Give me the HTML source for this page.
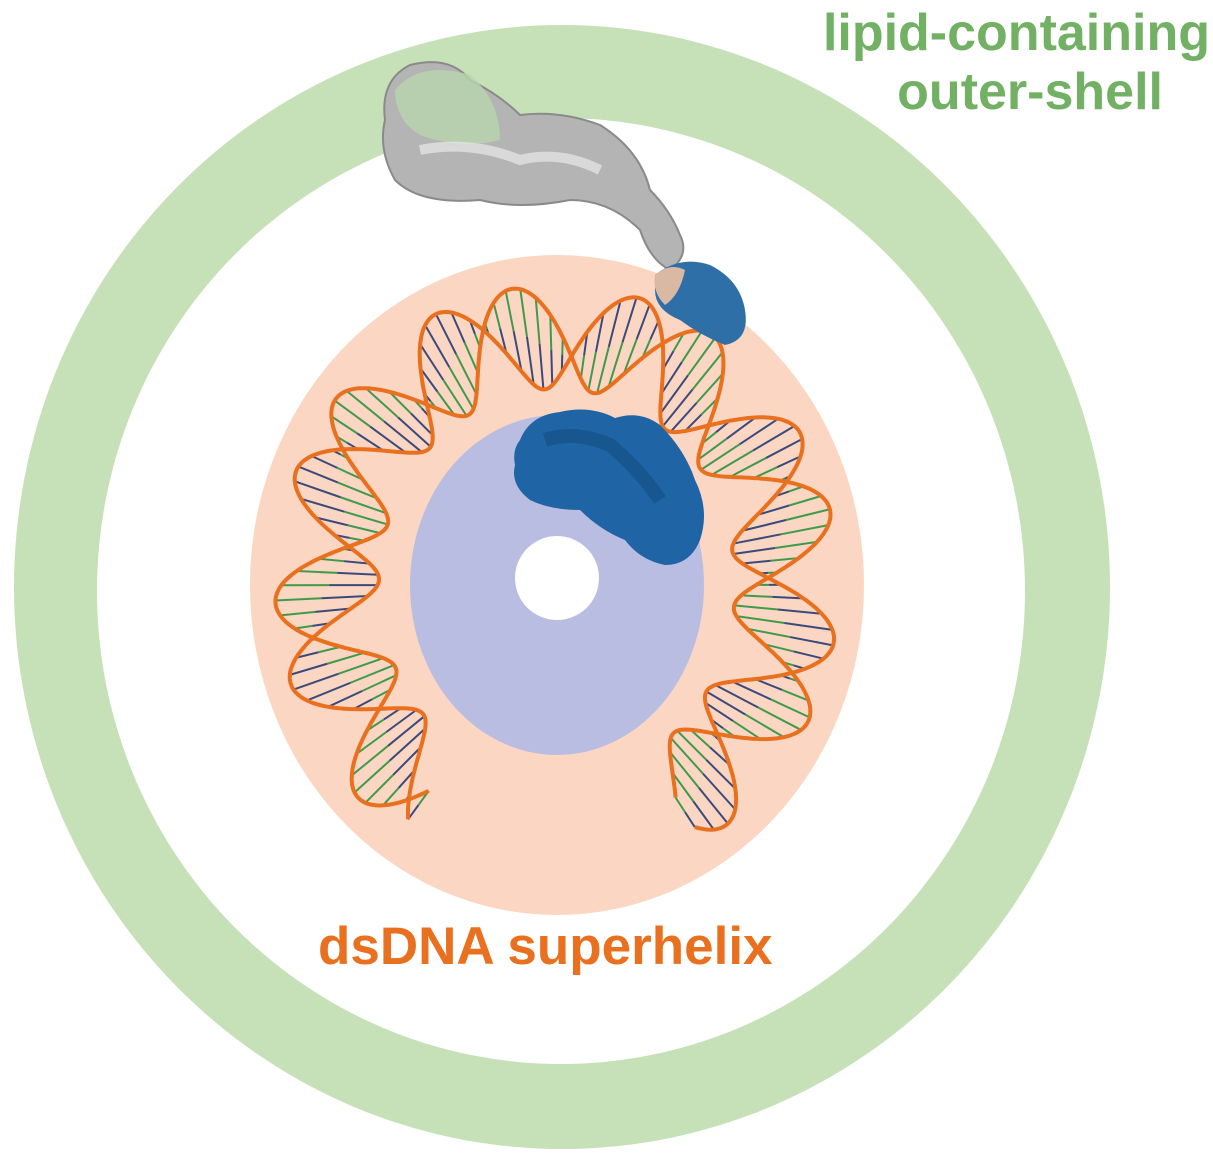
<!DOCTYPE html>
<html><head><meta charset="utf-8"><style>
html,body{margin:0;padding:0;background:#fff;width:1213px;height:1155px;overflow:hidden}
svg{display:block}
</style></head><body>
<svg id="s" width="1213" height="1155" viewBox="0 0 1213 1155" xmlns="http://www.w3.org/2000/svg">
<ellipse cx="562" cy="587" rx="548" ry="562" fill="#c6e1b8"/>
<ellipse cx="561" cy="591" rx="464" ry="473" fill="#fff"/>
<ellipse cx="557" cy="585" rx="307" ry="330" fill="#fbd6c2"/>
<ellipse cx="557" cy="585" rx="147" ry="170" fill="#b9bde2"/>
<circle cx="557" cy="578" r="42" fill="#fff"/>
<g id="dna"></g>
<g fill="#b4b4b4" stroke="#8a8a8a" stroke-width="2">
<path d="M385 120 Q380 80 410 65 Q450 55 470 80 Q500 95 520 115 Q560 110 600 125 Q640 150 650 190 Q670 210 680 235 Q690 255 670 270 Q650 260 640 230 Q610 200 570 200 Q520 210 480 200 Q420 205 395 180 Q378 150 385 120Z"/>
</g>
<path d="M395 90 Q420 60 470 75 Q500 100 500 140 Q460 150 420 135 Q395 120 395 90Z" fill="#b8d4ae" opacity="0.8"/>
<path d="M420 150 Q470 140 520 160 Q560 150 600 170" stroke="#e8e8e8" stroke-width="10" fill="none" opacity="0.7"/>
<path d="M655 275 Q680 255 710 265 Q740 280 745 310 Q750 340 725 345 Q700 335 680 320 Q655 310 655 290Z" fill="#2f6fa8"/>
<path d="M655 275 Q670 262 685 270 Q680 295 665 305 Q652 292 655 275Z" fill="#d9b8a4"/>
<path d="M520 440 Q530 415 560 412 Q590 405 615 418 Q640 410 660 425 Q685 450 695 480 Q710 510 700 540 Q690 565 665 565 Q640 560 625 540 Q600 530 580 510 Q550 510 530 500 Q510 485 515 465 Q512 450 520 440Z" fill="#1f65a6"/>
<path d="M545 440 Q575 430 610 445 Q640 470 660 500" stroke="#155087" stroke-width="14" fill="none" opacity="0.7"/>
<text x="1210" y="50" text-anchor="end" font-family="Liberation Sans, sans-serif" font-weight="bold" font-size="52" fill="#72b064">lipid-containing</text>
<text x="1163" y="109" text-anchor="end" font-family="Liberation Sans, sans-serif" font-weight="bold" font-size="52" fill="#72b064">outer-shell</text>
<text x="318" y="964" font-family="Liberation Sans, sans-serif" font-weight="bold" font-size="53" fill="#e8701e">dsDNA superhelix</text>
</svg>
<script>
(function(){
var g=document.getElementById('dna'),cx=557,cy=585,rx=230,ry=248,A=52;
var t0=-2.55,t1=2.6,N=600,P=7;
function pt(t,ph){var s=Math.sin(t),c=Math.cos(t);var x=cx+rx*s,y=cy-ry*c;
var nx=s*ry,ny=-c*rx,l=Math.hypot(nx,ny);nx/=l;ny/=l;
var u=(t-t0)/(t1-t0);var o=A*Math.sin(u*P*2*Math.PI+ph);return[x+nx*o,y+ny*o];}
var h='';
for(var i=0;i<=100;i++){var t=t0+(t1-t0)*i/100,a=pt(t,0),b=pt(t,2.4);
var mx=(a[0]+b[0])/2,my=(a[1]+b[1])/2;
h+='<line x1="'+a[0]+'" y1="'+a[1]+'" x2="'+mx+'" y2="'+my+'" stroke="#3f9a4c" stroke-width="2"/>';
h+='<line x1="'+mx+'" y1="'+my+'" x2="'+b[0]+'" y2="'+b[1]+'" stroke="#3b4a7c" stroke-width="2"/>';}
for(var k=0;k<2;k++){var d='';for(var i=0;i<=N;i++){var t=t0+(t1-t0)*i/N,p=pt(t,k?2.4:0);d+=(i?'L':'M')+p[0].toFixed(1)+' '+p[1].toFixed(1);}
h+='<path d="'+d+'" fill="none" stroke="#e8701e" stroke-width="4"/>';}
g.innerHTML=h;
})();
</script>
</body></html>
